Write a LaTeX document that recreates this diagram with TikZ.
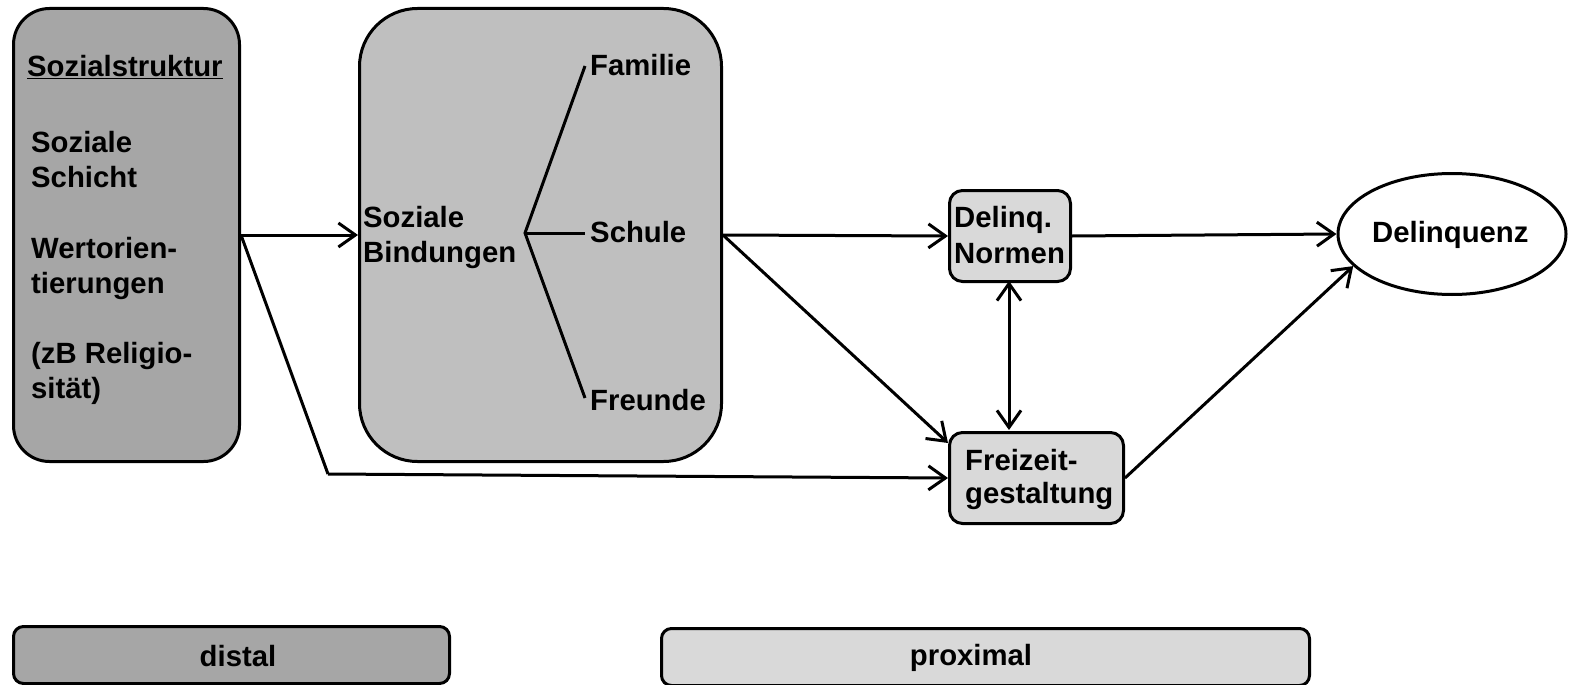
\documentclass[tikz,border=0pt]{standalone}
\usepackage{fontspec}
\setmainfont{Liberation Sans}
\usetikzlibrary{arrows.meta,shapes.geometric}
\definecolor{cdist}{HTML}{A6A6A6}
\definecolor{cmid}{HTML}{BFBFBF}
\definecolor{cprox}{HTML}{D9D9D9}
\newcommand{\ulx}[1]{\underline{#1}}
\begin{document}
\begin{tikzpicture}[x=1pt,y=-1pt,
  every node/.style={font=\fontsize{29.3}{35}\selectfont\bfseries},
  boxx/.style={draw=black,line width=3pt,anchor=north west,inner sep=0pt},
  lbl/.style={anchor=base west,inner sep=0pt},
  arr/.style={line width=3pt,-{Straight Barb[length=17pt,width=24pt,line width=3pt]}},
  dbl/.style={line width=3pt,{Straight Barb[length=17pt,width=24pt,line width=3pt]}-{Straight Barb[length=17pt,width=24pt,line width=3pt]}},
  ln/.style={line width=3pt}]
\useasboundingbox (0,0) rectangle (1571,685);
% main boxes
\node[boxx,fill=cdist,rounded corners=36pt,minimum width=226pt,minimum height=453pt] (soz) at (12,7) {};
\node[boxx,fill=cmid,rounded corners=58pt,minimum width=362pt,minimum height=453pt] (bind) at (358,7) {};
\node[boxx,fill=cprox,rounded corners=13pt,minimum width=121pt,minimum height=91pt] (dn) at (948,189) {};
\node[boxx,fill=cprox,rounded corners=13pt,minimum width=174pt,minimum height=91pt] (frei) at (948,431) {};
\node[draw=black,line width=3pt,ellipse,fill=white,minimum width=228pt,minimum height=121pt,inner sep=0pt] (del) at (1452,234) {};
% legend boxes
\node[boxx,fill=cdist,rounded corners=10pt,minimum width=436pt,minimum height=57pt] (dist) at (12,625) {};
\node[boxx,fill=cprox,rounded corners=10pt,minimum width=648pt,minimum height=57pt] (prox) at (660,627) {};
% texts left box
\node[lbl] (t1) at (27,77) {\ulx{Sozialstruktur}};
\node[lbl] (t2) at (31,152) {Soziale};
\node[lbl] (t3) at (31,187) {Schicht};
\node[lbl] (t4) at (31,258) {Wertorien-};
\node[lbl] (t5) at (31,293) {tierungen};
\node[lbl] (t6) at (31,363) {(zB Religio-};
\node[lbl] (t7) at (31,398) {sität)};
% texts middle box
\node[lbl] (m1) at (363,227) {Soziale};
\node[lbl] (m2) at (363,262) {Bindungen};
\node[lbl] (fam) at (590,76) {Familie};
\node[lbl] (sch) at (590,242) {Schule};
\node[lbl] (fre) at (590,410) {Freunde};
\coordinate (hub) at (525,233);
\coordinate (efam) at (585,66);
\coordinate (esch) at (585,233);
\coordinate (efre) at (585,398);
\draw[ln] (efam) -- (hub) -- (efre);
\draw[ln] (hub) -- (esch);
% small boxes texts
\node[lbl] (d1) at (954,227) {Delinq.};
\node[lbl] (d2) at (954,263) {Normen};
\node[lbl] (f1) at (965,470) {Freizeit-};
\node[lbl] (f2) at (965,503) {gestaltung};
\node[lbl] (dl) at (1372,242) {Delinquenz};
\node[anchor=base,inner sep=0pt] (dt) at (238,666) {distal};
\node[anchor=base,inner sep=0pt] (pt) at (971,665) {proximal};
% connectors
\coordinate (bend) at (328,474);
\draw[arr] (soz.east) -- (bind.west);
\draw[ln] (soz.east) -- (bend);
\draw[arr] (bend) -- (frei.west);
\draw[arr] (bind.east) -- (dn.west);
\draw[arr] (bind.east) -- ([yshift=-12pt]frei.north west);
\draw[arr] (dn.east) -- (del.west);
\draw[arr] (frei.east) -- (del.198);
\coordinate (dtop) at (1009,281);
\coordinate (dbot) at (1009,430);
\draw[dbl] (dtop) -- (dbot);
\end{tikzpicture}
\end{document}
